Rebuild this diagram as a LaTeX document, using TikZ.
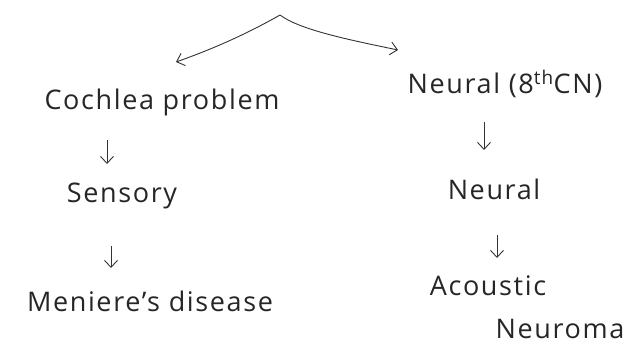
\documentclass[tikz,border=0pt]{standalone}
\usepackage{fontspec}
\setmainfont{Open Sans}
\usetikzlibrary{arrows.meta}
\begin{document}
\begin{tikzpicture}[x=1pt,y=-1pt,
  lbl/.style={font=\fontsize{27}{32}\selectfont\addfontfeatures{LetterSpace=6}, text=black!85, inner sep=0pt, anchor=center},
  arr/.style={draw=black!80, line width=0.9pt, -{Straight Barb[length=7pt,width=13pt]}}]
\useasboundingbox (0,0) rectangle (634,356);
% nodes
\node[lbl] (cochlea) at (162,102) {Cochlea problem};
\node[lbl] (sensory) at (122,196) {Sensory};
\node[lbl] (meniere) at (150,301) {Meniere's disease};
\node[lbl] (neural8) at (505,84) {Neural (8\textsuperscript{th}CN)};
\node[lbl] (neural) at (494,189) {Neural};
\node[lbl] (acoustic) at (488,286) {Acoustic};
\node[lbl] (neuroma) at (560,329) {Neuroma};
% top split
\coordinate (apex) at (280,15);
\coordinate (ltip) at (176,62);
\coordinate (rtip) at (398,50);
\draw[arr] (apex) .. controls (245,35) and (210,50) .. (ltip);
\draw[arr] (apex) .. controls (300,30) and (350,40) .. (rtip);
% down arrows
\coordinate (a1s) at (107,140); \coordinate (a1e) at (107,164);
\coordinate (a2s) at (111,246); \coordinate (a2e) at (111,268);
\coordinate (b1s) at (484,122); \coordinate (b1e) at (484,150);
\coordinate (b2s) at (497,235); \coordinate (b2e) at (497,258);
\draw[arr] (a1s) -- (a1e);
\draw[arr] (a2s) -- (a2e);
\draw[arr] (b1s) -- (b1e);
\draw[arr] (b2s) -- (b2e);
\end{tikzpicture}
\end{document}
